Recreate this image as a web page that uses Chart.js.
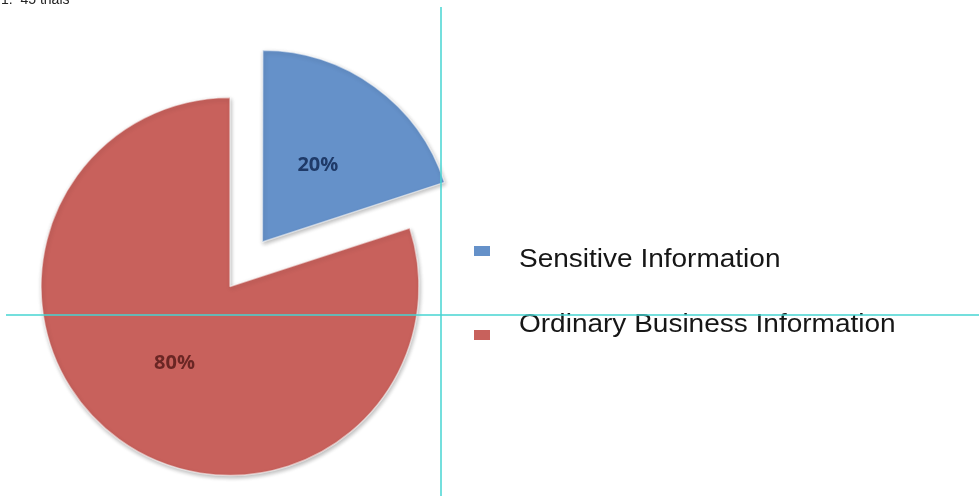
<!DOCTYPE html>
<html>
<head>
<meta charset="utf-8">
<script src="https://cdn.jsdelivr.net/npm/chart.js@4"></script>
<style>
    html, body {
        margin: 0;
        padding: 0;
        background: #ffffff;
        overflow: hidden;
    }
    #stage {
        position: relative;
        width: 979px;
        height: 496px;
    }
    #chart-info {
        position: absolute;
        left: 0;
        top: 0;
    }
    .caption {
        position: absolute;
        left: 1px;
        top: -8px;
        font: 14px/14px "Liberation Sans", Arial, sans-serif;
        color: #222;
        white-space: pre;
    }
    .legend-item {
        position: absolute;
        left: 474px;
    }
    .legend-box {
        position: absolute;
        left: 0;
        width: 16px;
        height: 10px;
    }
    .legend-text {
        position: absolute;
        left: 45px;
        font: 25px/25px "Liberation Sans", Arial, sans-serif;
        color: #161616;
        white-space: nowrap;
        transform: scaleX(1.12);
        transform-origin: left top;
    }
    .guide {
        position: absolute;
        background: rgba(70, 212, 210, 0.75);
    }
</style>
</head>
<body>
<div id="stage">
    <canvas id="chart-info" width="979" height="496"></canvas>
    <div class="caption">1.  45 thais</div>
    <div id="legend"></div>
    <div class="guide" style="left:440px; top:7px; width:2px; height:489px;"></div>
    <div class="guide" style="left:6px; top:314px; width:973px; height:2px;"></div>
</div>
<script>
/* global Chart */

const categorias = ['Sensitive Information', 'Ordinary Business Information'];
const porcentajes = [20, 80];
const colores = ['#6591c9', '#c8615c'];
const coloresEtiqueta = ['#1f3a68', '#6a2624'];
// Chart.js moves an arc by a quarter of its offset
const desplazamientos = [220, 0];
const legendTops = [246, 330];
const textTops = [246, 311];

function getElement(id) {
    return document.getElementById(id);
}

// Soft drop shadow under the slices
const sombraPlugin = {
    id: 'sombra',
    beforeDatasetDraw(chart) {
        const ctx = chart.ctx;
        ctx.save();
        ctx.shadowColor = 'rgba(0, 0, 0, 0.28)';
        ctx.shadowBlur = 4;
        ctx.shadowOffsetX = 1;
        ctx.shadowOffsetY = 2;
    },
    afterDatasetDraw(chart) {
        chart.ctx.restore();
    },
};

// Percentage labels inside each slice
const etiquetasPlugin = {
    id: 'etiquetas',
    afterDatasetsDraw(chart) {
        const ctx = chart.ctx;
        const meta = chart.getDatasetMeta(0);
        const total = porcentajes.reduce((a, b) => a + b, 0);
        ctx.save();
        ctx.font = 'bold 20px "Open Sans", sans-serif';
        ctx.textAlign = 'center';
        ctx.textBaseline = 'middle';
        meta.data.forEach((arc, i) => {
            const mid = (arc.startAngle + arc.endAngle) / 2;
            const dist = arc.options.offset / 4 + arc.outerRadius * 0.5;
            const x = arc.x + Math.cos(mid) * dist;
            const y = arc.y + Math.sin(mid) * dist;
            ctx.fillStyle = coloresEtiqueta[i];
            ctx.fillText(`${Math.round(porcentajes[i] / total * 100)}%`, x, y);
        });
        ctx.restore();
    },
};

function renderLegend() {
    const legend = getElement('legend');
    categorias.forEach((label, i) => {
        const item = document.createElement('div');
        item.className = 'legend-item';
        item.style.top = '0px';

        const box = document.createElement('div');
        box.className = 'legend-box';
        box.style.top = `${legendTops[i]}px`;
        box.style.background = colores[i];

        const text = document.createElement('div');
        text.className = 'legend-text';
        text.style.top = `${textTops[i]}px`;
        text.textContent = label;

        item.appendChild(box);
        item.appendChild(text);
        legend.appendChild(item);
    });
}

function createPieChart() {
    const canvas = getElement('chart-info');
    return new Chart(canvas, {
        type: 'pie',
        data: {
            labels: categorias,
            datasets: [
                {
                    data: porcentajes,
                    backgroundColor: colores,
                    borderColor: 'rgba(255, 255, 255, 0.55)',
                    borderWidth: 1.5,
                    offset: desplazamientos,
                },
            ],
        },
        options: {
            responsive: false,
            animation: false,
            events: [],
            radius: 189,
            layout: {
                padding: { left: 0, right: 519, top: 77, bottom: 0 },
            },
            plugins: {
                legend: { display: false },
                tooltip: { enabled: false },
            },
        },
        plugins: [sombraPlugin, etiquetasPlugin],
    });
}

renderLegend();
createPieChart();
</script>
</body>
</html>
